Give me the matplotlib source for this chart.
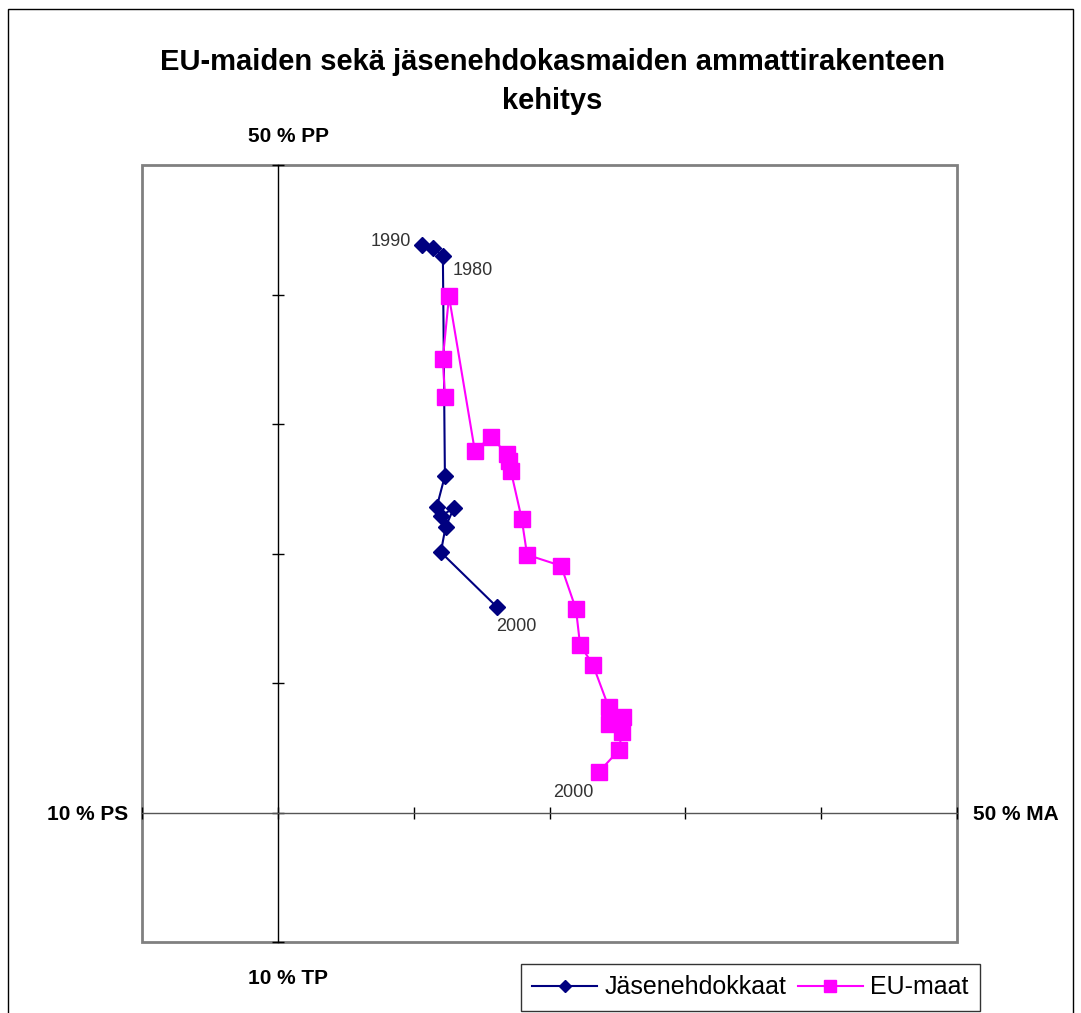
import numpy as np
import matplotlib
matplotlib.use("Agg")
from matplotlib import pyplot as plt
from matplotlib.patches import Rectangle

plt.rcParams['font.family'] = ['Liberation Sans', 'DejaVu Sans']

# Jäsenehdokkaat 1990 -> 2000
cand_x = [10.6, 11.4, 12.15, 12.3, 11.7, 12.0, 12.95, 12.35, 12.0, 16.1]
cand_y = [43.8, 43.6, 43.0, 26.0, 23.6, 22.9, 23.5, 22.05, 20.1, 15.9]

# EU-maat 1980 -> 2000
eu_x = [12.3, 12.15, 12.6, 14.5, 15.7, 16.85, 17.0, 17.15, 17.95, 18.35,
        20.85, 21.95, 22.25, 23.2, 24.35, 24.35, 25.4, 25.35, 25.1, 23.65]
eu_y = [32.1, 35.05, 39.85, 27.95, 29.0, 27.7, 27.15, 26.4, 22.7, 19.9,
        19.05, 15.7, 12.95, 11.4, 8.15, 6.8, 7.35, 6.25, 4.8, 3.15]

ticks = [-10, 0, 10, 20, 30, 40, 50]

W, H = 1081, 1013
fig = plt.figure(figsize=(W / 100, H / 100), dpi=100)
ax = fig.add_axes([142 / W, 1 - 942 / H, (957 - 142) / W, (942 - 165) / H])

ax.plot(cand_x, cand_y, color='#000080', lw=1.5, marker='D', ms=8,
        label='Jäsenehdokkaat', zorder=3)
ax.plot(eu_x, eu_y, color='#FF00FF', lw=1.5, marker='s', ms=11.5,
        label='EU-maat', zorder=4)

ax.set_xlim(-10, 50)
ax.set_ylim(-10, 50)
ax.set_xticks(ticks)
ax.set_yticks(ticks)
ax.set_xticklabels([])
ax.set_yticklabels([])

ax.spines['left'].set_position(('data', 0))
ax.spines['bottom'].set_position(('data', 0))
ax.spines['left'].set_color('black')
ax.spines['bottom'].set_color('#555555')
ax.spines['left'].set_linewidth(1.0)
ax.spines['bottom'].set_linewidth(1.0)
for s in ['top', 'right']:
    ax.spines[s].set_visible(False)
ax.tick_params(direction='inout', length=8, width=1, color='black')
ax.add_patch(Rectangle((0, 0), 1, 1, transform=ax.transAxes, fill=False,
                       edgecolor='#808080', lw=2, clip_on=False, zorder=1))

# data labels
lab = dict(fontsize=13, color='#333333', ha='left', va='center',
           textcoords='offset points')
ax.annotate('1990', (cand_x[0], cand_y[0]), xytext=(-37, 3), **lab)
ax.annotate('1980', (cand_x[2], cand_y[2]), xytext=(7, -11), **lab)
ax.annotate('2000', (cand_x[-1], cand_y[-1]), xytext=(0, -14), **lab)
ax.annotate('2000', (eu_x[-1], eu_y[-1]), xytext=(-33, -15), **lab)

fig.text(552 / W, 1 - 62 / H, 'EU-maiden sekä jäsenehdokasmaiden ammattirakenteen',
         ha='center', va='center', fontsize=21, fontweight='bold')
fig.text(552 / W, 1 - 101 / H, 'kehitys', ha='center', va='center',
         fontsize=21, fontweight='bold')

fig.text(288 / W, 1 - 136 / H, '50 % PP', ha='center', va='center', fontsize=15, fontweight='bold')
fig.text(128 / W, 1 - 814 / H, '10 % PS', ha='right', va='center', fontsize=15, fontweight='bold')
fig.text(973 / W, 1 - 814 / H, '50 % MA', ha='left', va='center', fontsize=15, fontweight='bold')
fig.text(288 / W, 1 - 978 / H, '10 % TP', ha='center', va='center', fontsize=15, fontweight='bold')

leg = fig.legend(loc='upper left', bbox_to_anchor=(521 / W, 1 - 964 / H), ncol=2,
                 fontsize=18, frameon=True, fancybox=False, edgecolor='black',
                 handlelength=2.6, handletextpad=0.3, columnspacing=0.45,
                 borderpad=0.45, borderaxespad=0, markerscale=0.75)
leg.get_frame().set_linewidth(1.0)

fig.patches.append(Rectangle((8 / W, -0.01), (1073 - 8) / W, 1.01 - 9 / H,
                             transform=fig.transFigure, fill=False,
                             edgecolor='black', lw=1))

fig.savefig('out.png', dpi=100)
